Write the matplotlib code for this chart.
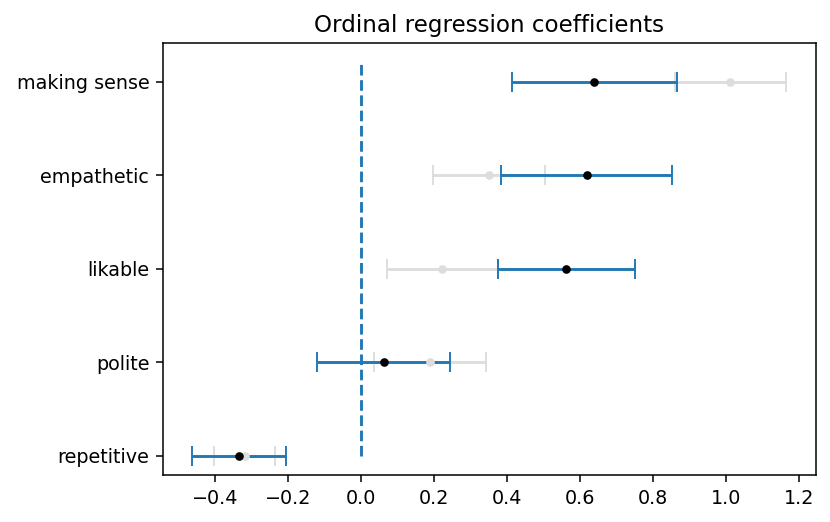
import matplotlib
matplotlib.use("Agg")
import matplotlib.pyplot as plt
import numpy as np

# Categories from bottom to top
categories = ["repetitive", "polite", "likable", "empathetic", "making sense"]

# Main (blue) estimates with confidence bounds
main_coef = [-0.335, 0.062, 0.563, 0.620, 0.640]
main_lo = [-0.463, -0.120, 0.376, 0.384, 0.413]
main_hi = [-0.207, 0.244, 0.752, 0.854, 0.867]

# Comparison (grey) estimates with confidence bounds
alt_coef = [-0.319, 0.188, 0.223, 0.350, 1.013]
alt_lo = [-0.403, 0.035, 0.071, 0.197, 0.860]
alt_hi = [-0.236, 0.343, 0.375, 0.504, 1.166]

DPI = 138
fig = plt.figure(figsize=(830 / DPI, 522 / DPI), dpi=DPI)
ax = fig.add_axes([0.196, 0.0895, 0.787, 0.8275])

y = np.arange(len(categories))

mc = np.array(main_coef)
ac = np.array(alt_coef)
main_err = [mc - np.array(main_lo), np.array(main_hi) - mc]
alt_err = [ac - np.array(alt_lo), np.array(alt_hi) - ac]

grey = "#dddddd"
ax.errorbar(ac, y, xerr=alt_err, fmt=".", markersize=7, color=grey, ecolor=grey, capsize=5)
ax.errorbar(mc, y, xerr=main_err, fmt=".", markersize=7, color="black", ecolor="tab:blue", capsize=5)
ax.plot([0, 0], [0, len(categories) - 1 + 0.2], linestyle="--", color="tab:blue")

ax.set_yticks(y)
ax.set_yticklabels(categories)
ax.set_title("Ordinal regression coefficients")

fig.savefig("out.png", dpi=DPI)
